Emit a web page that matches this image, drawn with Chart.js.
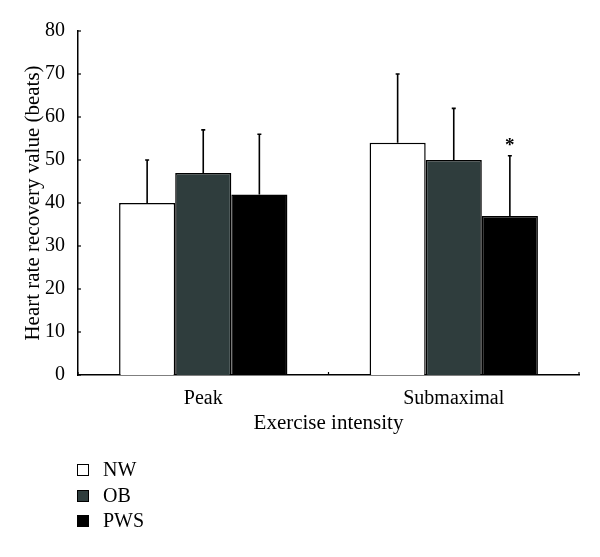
<!DOCTYPE html>
<html>
<head>
<meta charset="utf-8">
<script src="https://cdn.jsdelivr.net/npm/chart.js@4"></script>
<style>
  html, body { margin: 0; padding: 0; background: #fff; }
  #wrap { position: relative; width: 600px; height: 557px; }
  #legend { position: absolute; left: 77px; top: 458px; font-family: "Liberation Serif", "DejaVu Serif", serif; font-size: 20px; color: #000; }
  #legend div { height: 25.5px; line-height: 22px; }
  #legend span.box { display: inline-block; width: 10px; height: 10px; border: 1.5px solid #000; margin-right: 14px; vertical-align: 0px; }
</style>
</head>
<body>
<div id="wrap">
  <canvas id="hrrChart" width="600" height="557"></canvas>
  <div id="legend"></div>
</div>
<script>
const categories = ['Peak', 'Submaximal'];
const groups = ['NW', 'OB', 'PWS'];
const nwValues = [40, 54];
const obValues = [47, 50];
const pwsValues = [42, 37];
const nwUpper = [50, 70];
const obUpper = [57, 62];
const pwsUpper = [56, 51];
const pwsMarks = ['', '*'];
const yTicks = [0, 10, 20, 30, 40, 50, 60, 70, 80];

const colors = ['#ffffff', '#2f3d3d', '#000000'];
const serif = '"Liberation Serif", "DejaVu Serif", serif';

// error bars (upper only), asterisk and inward tick marks
const extras = {
  id: 'extras',
  afterDatasetsDraw(chart) {
    const ctx = chart.ctx;
    const y = chart.scales.y;
    const x = chart.scales.x;
    const uppers = [nwUpper, obUpper, pwsUpper];
    ctx.save();
    ctx.strokeStyle = '#000';
    ctx.lineWidth = 1.6;
    chart.data.datasets.forEach((ds, i) => {
      const meta = chart.getDatasetMeta(i);
      meta.data.forEach((bar, j) => {
        const top = y.getPixelForValue(uppers[i][j]);
        ctx.beginPath();
        ctx.moveTo(bar.x, bar.y);
        ctx.lineTo(bar.x, top);
        ctx.moveTo(bar.x - 2, top);
        ctx.lineTo(bar.x + 2, top);
        ctx.stroke();
        if (i === 2 && pwsMarks[j]) {
          ctx.fillStyle = '#000';
          ctx.font = 'bold 19px ' + serif;
          ctx.textAlign = 'center';
          ctx.textBaseline = 'middle';
          ctx.fillText(pwsMarks[j], bar.x, y.getPixelForValue(uppers[i][j] + 2.3));
        }
      });
    });
    // inward ticks
    ctx.lineWidth = 1.2;
    yTicks.forEach(v => {
      const py = y.getPixelForValue(v);
      ctx.beginPath();
      ctx.moveTo(chart.chartArea.left, py);
      ctx.lineTo(chart.chartArea.left + 3, py);
      ctx.stroke();
    });
    const p0 = x.getPixelForValue(0), p1 = x.getPixelForValue(1);
    const step = p1 - p0;
    [p0 - step / 2, p0 + step / 2, p1 + step / 2].forEach(px => {
      ctx.beginPath();
      ctx.moveTo(px, chart.chartArea.bottom);
      ctx.lineTo(px, chart.chartArea.bottom - 3);
      ctx.stroke();
    });
    ctx.restore();
  }
};

const ctx = document.getElementById('hrrChart').getContext('2d');
const chart = new Chart(ctx, {
  type: 'bar',
  data: {
    labels: categories,
    datasets: [nwValues, obValues, pwsValues].map((vals, i) => ({
      label: groups[i],
      data: vals,
      backgroundColor: colors[i],
      borderColor: '#000',
      borderWidth: 1.5,
      barPercentage: 1,
      categoryPercentage: 0.672
    }))
  },
  options: {
    responsive: false,
    animation: false,
    layout: { padding: { top: 31, right: 21, bottom: 117, left: 0 } },
    plugins: { legend: { display: false }, tooltip: { enabled: false } },
    scales: {
      x: {
        offset: true,
        afterFit(s) { s.height = 65; },
        grid: { display: false },
        border: { display: true, color: '#000', width: 1.5 },
        ticks: { color: '#000', font: { family: serif, size: 20 }, padding: 4 },
        title: { display: true, text: 'Exercise intensity', color: '#000', font: { family: serif, size: 21 }, padding: { top: 2 } }
      },
      y: {
        min: 0, max: 80,
        afterFit(s) { s.width = 78; },
        grid: { display: false },
        border: { display: true, color: '#000', width: 1.5 },
        ticks: { stepSize: 10, color: '#000', font: { family: serif, size: 20 }, padding: 5 },
        title: { display: true, text: 'Heart rate recovery value (beats)', color: '#000', font: { family: serif, size: 21 }, padding: { top: 21, bottom: 4 } }
      }
    }
  },
  plugins: [extras]
});

const legend = document.getElementById('legend');
groups.forEach((g, i) => {
  const row = document.createElement('div');
  row.innerHTML = '<span class="box" style="background:' + colors[i] + '"></span>' + g;
  legend.appendChild(row);
});
</script>
</body>
</html>
